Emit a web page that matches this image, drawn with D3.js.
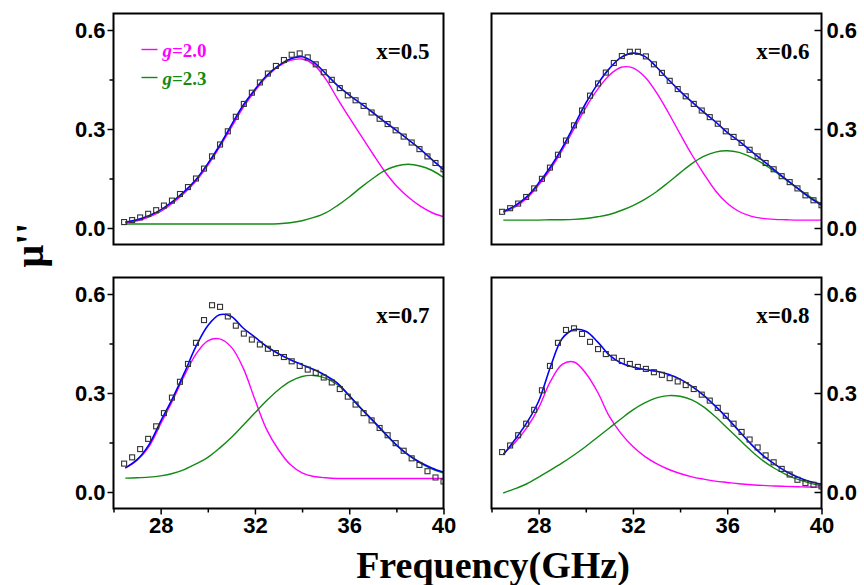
<!DOCTYPE html>
<html>
<head>
<meta charset="utf-8">
<script src="https://cdn.jsdelivr.net/npm/d3@7"></script>
<style>
body{margin:0;background:#fff;}
svg{display:block;}
.tick text{font-family:"Liberation Sans",Arial,sans-serif;font-weight:bold;font-size:22px;fill:#000;}
.tick line{stroke:#000;stroke-width:1.5;}
</style>
</head>
<body>
<svg id="chart"></svg>
<script>
//frequencies of the measured points (GHz)
var freqData = [26.45,26.79,27.13,27.47,27.81,28.14,28.48,28.82,29.16,29.50,
    29.84,30.18,30.52,30.85,31.19,31.53,31.87,32.21,32.55,32.89,
    33.23,33.56,33.90,34.24,34.58,34.92,35.26,35.60,35.94,36.27,
    36.61,36.95,37.29,37.63,37.97,38.31,38.65,38.98,39.32,39.66,40.00];

//frequencies where the fitted curves were read
var freqFit = [26.5,27,27.5,28,28.5,29,29.5,30,30.5,31,31.5,32,32.5,33,33.5,
    34,34.5,35,35.5,36,36.5,37,37.5,38,38.5,39,39.5,40];

var panelNames = ["x=0.5","x=0.6","x=0.7","x=0.8"];
var legendNames = ["2.0","2.3"];
var xTicks = [28,32,36,40];
var xMinor = [26,30,34,38];
var yTicks = [0.0,0.3,0.6];
var yMinor = [0.15,0.45];

//x=0.5
var meas05 = [0.018,0.024,0.032,0.043,0.054,0.068,0.083,0.103,0.124,0.150,0.180,0.217,0.253,0.293,0.337,0.376,0.410,0.441,0.468,0.491,
    0.509,0.525,0.529,0.517,0.496,0.472,0.449,0.424,0.402,0.387,0.370,0.350,0.331,0.315,0.296,0.277,0.259,0.239,0.217,0.197,0.178];
var fit05 = [0.018,0.025,0.037,0.055,0.080,0.110,0.147,0.195,0.250,0.312,0.372,0.420,0.462,0.492,0.512,0.519,0.502,0.468,0.432,0.403,
    0.377,0.350,0.322,0.296,0.268,0.240,0.208,0.177];
var g20_05 = [0.016,0.022,0.033,0.050,0.075,0.105,0.142,0.190,0.245,0.305,0.365,0.415,0.458,0.490,0.508,0.512,0.495,0.452,0.392,0.335,
    0.280,0.225,0.172,0.128,0.094,0.067,0.047,0.034];
var g23_05 = [0.012,0.012,0.012,0.012,0.012,0.012,0.012,0.012,0.012,0.012,0.012,0.012,0.012,0.013,0.016,0.022,0.032,0.046,0.068,0.094,
    0.123,0.150,0.174,0.188,0.193,0.188,0.175,0.153];

//x=0.6
var meas06 = [0.049,0.060,0.074,0.094,0.120,0.149,0.183,0.222,0.265,0.311,0.356,0.401,0.438,0.471,0.500,0.521,0.534,0.534,0.520,0.496,
    0.470,0.446,0.421,0.399,0.376,0.356,0.336,0.316,0.293,0.276,0.258,0.237,0.217,0.197,0.178,0.157,0.139,0.120,0.099,0.084,0.069];
var fit06 = [0.050,0.068,0.095,0.136,0.185,0.243,0.310,0.378,0.436,0.483,0.517,0.530,0.520,0.488,0.450,0.415,0.382,0.351,0.322,0.290,
    0.263,0.234,0.205,0.176,0.147,0.119,0.092,0.069];
var g20_06 = [0.047,0.064,0.090,0.130,0.178,0.236,0.300,0.365,0.420,0.463,0.487,0.485,0.458,0.410,0.350,0.285,0.222,0.165,0.113,0.075,
    0.050,0.036,0.029,0.026,0.025,0.024,0.024,0.024];
var g23_06 = [0.024,0.024,0.024,0.024,0.025,0.025,0.026,0.029,0.034,0.041,0.053,0.068,0.087,0.110,0.138,0.167,0.195,0.217,0.230,0.234,
    0.229,0.215,0.196,0.172,0.146,0.120,0.095,0.072];

//x=0.7
var meas07 = [0.086,0.105,0.130,0.161,0.199,0.239,0.286,0.334,0.388,0.452,0.521,0.566,0.561,0.532,0.504,0.480,0.462,0.447,0.434,0.421,
    0.409,0.396,0.382,0.371,0.361,0.347,0.332,0.312,0.289,0.265,0.239,0.217,0.194,0.172,0.148,0.125,0.102,0.082,0.063,0.044,0.032];
var fit07 = [0.073,0.098,0.143,0.214,0.283,0.360,0.441,0.504,0.537,0.532,0.497,0.469,0.441,0.419,0.401,0.386,0.371,0.353,0.330,0.292,
    0.253,0.217,0.179,0.143,0.113,0.090,0.073,0.060];
var g20_07 = [0.072,0.096,0.137,0.206,0.276,0.352,0.418,0.458,0.464,0.439,0.376,0.280,0.189,0.128,0.083,0.058,0.047,0.043,0.041,0.041,
    0.041,0.041,0.041,0.041,0.041,0.041,0.041,0.041];
var g23_07 = [0.042,0.043,0.045,0.049,0.056,0.068,0.085,0.105,0.133,0.165,0.202,0.240,0.277,0.310,0.335,0.350,0.353,0.345,0.325,0.292,
    0.254,0.216,0.178,0.142,0.112,0.088,0.070,0.057];

//x=0.8
var meas08 = [0.121,0.141,0.172,0.207,0.249,0.308,0.382,0.452,0.491,0.496,0.479,0.455,0.433,0.418,0.407,0.397,0.388,0.379,0.373,0.363,
    0.355,0.345,0.335,0.324,0.312,0.295,0.277,0.255,0.231,0.207,0.182,0.159,0.135,0.111,0.090,0.070,0.053,0.037,0.027,0.022,0.017];
var fit08 = [0.113,0.159,0.210,0.275,0.379,0.465,0.492,0.487,0.455,0.415,0.391,0.379,0.371,0.366,0.357,0.342,0.320,0.293,0.260,0.224,
    0.185,0.146,0.112,0.085,0.062,0.045,0.032,0.024];
var g20_08 = [0.116,0.150,0.195,0.255,0.335,0.387,0.394,0.360,0.303,0.229,0.177,0.138,0.108,0.086,0.069,0.056,0.046,0.039,0.033,0.029,
    0.025,0.022,0.020,0.018,0.017,0.016,0.015,0.015];
var g23_08 = [-0.003,0.010,0.025,0.045,0.066,0.088,0.112,0.138,0.166,0.194,0.222,0.249,0.270,0.285,0.292,0.290,0.279,0.258,0.228,0.194,
    0.160,0.126,0.096,0.072,0.053,0.038,0.027,0.019];

var colors = {fit:"#0000ff", g20:"#ff00ff", g23:"#138a13", point:"#333333"};

//size of the picture and of one panel
var screen = {width:864, height:585};
var panel = {width:330, height:231};

//where the four panels sit
var panels = [
    {name:panelNames[0], meas:meas05, fit:fit05, g20:g20_05, g23:g23_05, left:113.5, top:13.5, side:"left", bottom:false, legend:true},
    {name:panelNames[1], meas:meas06, fit:fit06, g20:g20_06, g23:g23_06, left:491.5, top:13.5, side:"right", bottom:false, legend:false},
    {name:panelNames[2], meas:meas07, fit:fit07, g20:g20_07, g23:g23_07, left:113.5, top:277.5, side:"left", bottom:true, legend:false},
    {name:panelNames[3], meas:meas08, fit:fit08, g20:g20_08, g23:g23_08, left:491.5, top:277.5, side:"right", bottom:true, legend:false}
];

var svg = d3.select("#chart")
    .attr("width",screen.width)
    .attr("height",screen.height);

var noDomain = function(a){a.select(".domain").remove();};

//draws one panel with its axes, curves and points
var drawPanel = function(p, index)
{
    var xScale = d3.scaleLinear()
        .domain([26,40])
        .range([p.left, p.left+panel.width]);
    var yScale = d3.scaleLinear()
        .domain([-0.05,0.65])
        .range([p.top+panel.height, p.top]);

    var g = svg.append("g");

    //clip so the curves stay inside the frame
    g.append("clipPath")
        .attr("id","clip"+index)
        .append("rect")
        .attr("x",p.left)
        .attr("y",p.top)
        .attr("width",panel.width)
        .attr("height",panel.height);

    //y axis: outward ticks on the left panels, inward ticks on the right ones
    if(p.side=="left")
    {
        g.append("g")
            .attr("transform","translate("+p.left+",0)")
            .call(d3.axisLeft(yScale).tickValues(yTicks).tickSize(6).tickPadding(2).tickFormat(d3.format(".1f")))
            .call(noDomain);
        g.append("g")
            .attr("transform","translate("+p.left+",0)")
            .call(d3.axisLeft(yScale).tickValues(yMinor).tickSize(4).tickFormat(""))
            .call(noDomain);
    }
    else
    {
        var yPos = p.left+panel.width;
        g.append("g")
            .attr("transform","translate("+yPos+",0)")
            .call(d3.axisRight(yScale).tickValues(yTicks).tickSize(-7).tickPadding(5).tickFormat(d3.format(".1f")))
            .call(noDomain);
        g.append("g")
            .attr("transform","translate("+yPos+",0)")
            .call(d3.axisRight(yScale).tickValues(yMinor).tickSize(-4).tickFormat(""))
            .call(noDomain);
    }

    //x axis only on the bottom row
    if(p.bottom)
    {
        g.append("g")
            .attr("transform","translate(0,"+(p.top+panel.height)+")")
            .call(d3.axisBottom(xScale).tickValues(xTicks).tickSize(6).tickPadding(3).tickFormat(d3.format("d")))
            .call(noDomain);
        g.append("g")
            .attr("transform","translate(0,"+(p.top+panel.height)+")")
            .call(d3.axisBottom(xScale).tickValues(xMinor).tickSize(4).tickFormat(""))
            .call(noDomain);
    }

    var plot = g.append("g").attr("clip-path","url(#clip"+index+")");

    var line = d3.line()
        .x(function(d,i){return xScale(freqFit[i]);})
        .y(function(d){return yScale(d);})
        .curve(d3.curveCatmullRom.alpha(0.5));

    plot.append("path")
        .attr("d",line(p.g20))
        .attr("fill","none")
        .attr("stroke",colors.g20)
        .attr("stroke-width",1.4);
    plot.append("path")
        .attr("d",line(p.g23))
        .attr("fill","none")
        .attr("stroke",colors.g23)
        .attr("stroke-width",1.4);
    plot.append("path")
        .attr("d",line(p.fit))
        .attr("fill","none")
        .attr("stroke",colors.fit)
        .attr("stroke-width",1.6);

    //measured points as open squares
    plot.selectAll("rect.pt")
        .data(p.meas)
        .enter()
        .append("rect")
        .classed("pt",true)
        .attr("x",function(d,i){return xScale(freqData[i])-2.5;})
        .attr("y",function(d){return yScale(d)-2.5;})
        .attr("width",5)
        .attr("height",5)
        .attr("fill","none")
        .attr("stroke",colors.point)
        .attr("stroke-width",1.1);

    //frame
    g.append("rect")
        .attr("x",p.left)
        .attr("y",p.top)
        .attr("width",panel.width)
        .attr("height",panel.height)
        .attr("fill","none")
        .attr("stroke","#000")
        .attr("stroke-width",2);

    //composition label
    g.append("text")
        .attr("x",p.left+panel.width-(p.side=="left"?14:12))
        .attr("y",p.top+45)
        .attr("text-anchor","end")
        .style("font-family","'Liberation Serif','Times New Roman',serif")
        .style("font-weight","bold")
        .style("font-size","23px")
        .text(p.name);

    if(p.legend)
    {
        var items = [{c:colors.g20, t:legendNames[0], y:p.top+36},
                     {c:colors.g23, t:legendNames[1], y:p.top+64}];
        items.forEach(function(it)
        {
            g.append("line")
                .attr("x1",p.left+28)
                .attr("x2",p.left+44)
                .attr("y1",it.y)
                .attr("y2",it.y)
                .attr("stroke",it.c)
                .attr("stroke-width",1.4);
            var t = g.append("text")
                .attr("x",p.left+49)
                .attr("y",it.y+7)
                .style("font-family","'Liberation Serif','Times New Roman',serif")
                .style("font-weight","bold")
                .style("font-size","19px")
                .attr("fill",it.c);
            t.append("tspan").style("font-style","italic").text("g");
            t.append("tspan").text("="+it.t);
        });
    }
}

panels.forEach(drawPanel);

//shared axis titles
svg.append("text")
    .attr("transform","translate(43,245) rotate(-90)")
    .attr("text-anchor","middle")
    .style("font-family","'Liberation Serif','Times New Roman',serif")
    .style("font-weight","bold")
    .style("font-size","40px")
    .text("\u03bc''");

svg.append("text")
    .attr("x",493)
    .attr("y",578)
    .attr("text-anchor","middle")
    .style("font-family","'Liberation Serif','Times New Roman',serif")
    .style("font-weight","bold")
    .style("font-size","38px")
    .text("Frequency(GHz)");
</script>
</body>
</html>
